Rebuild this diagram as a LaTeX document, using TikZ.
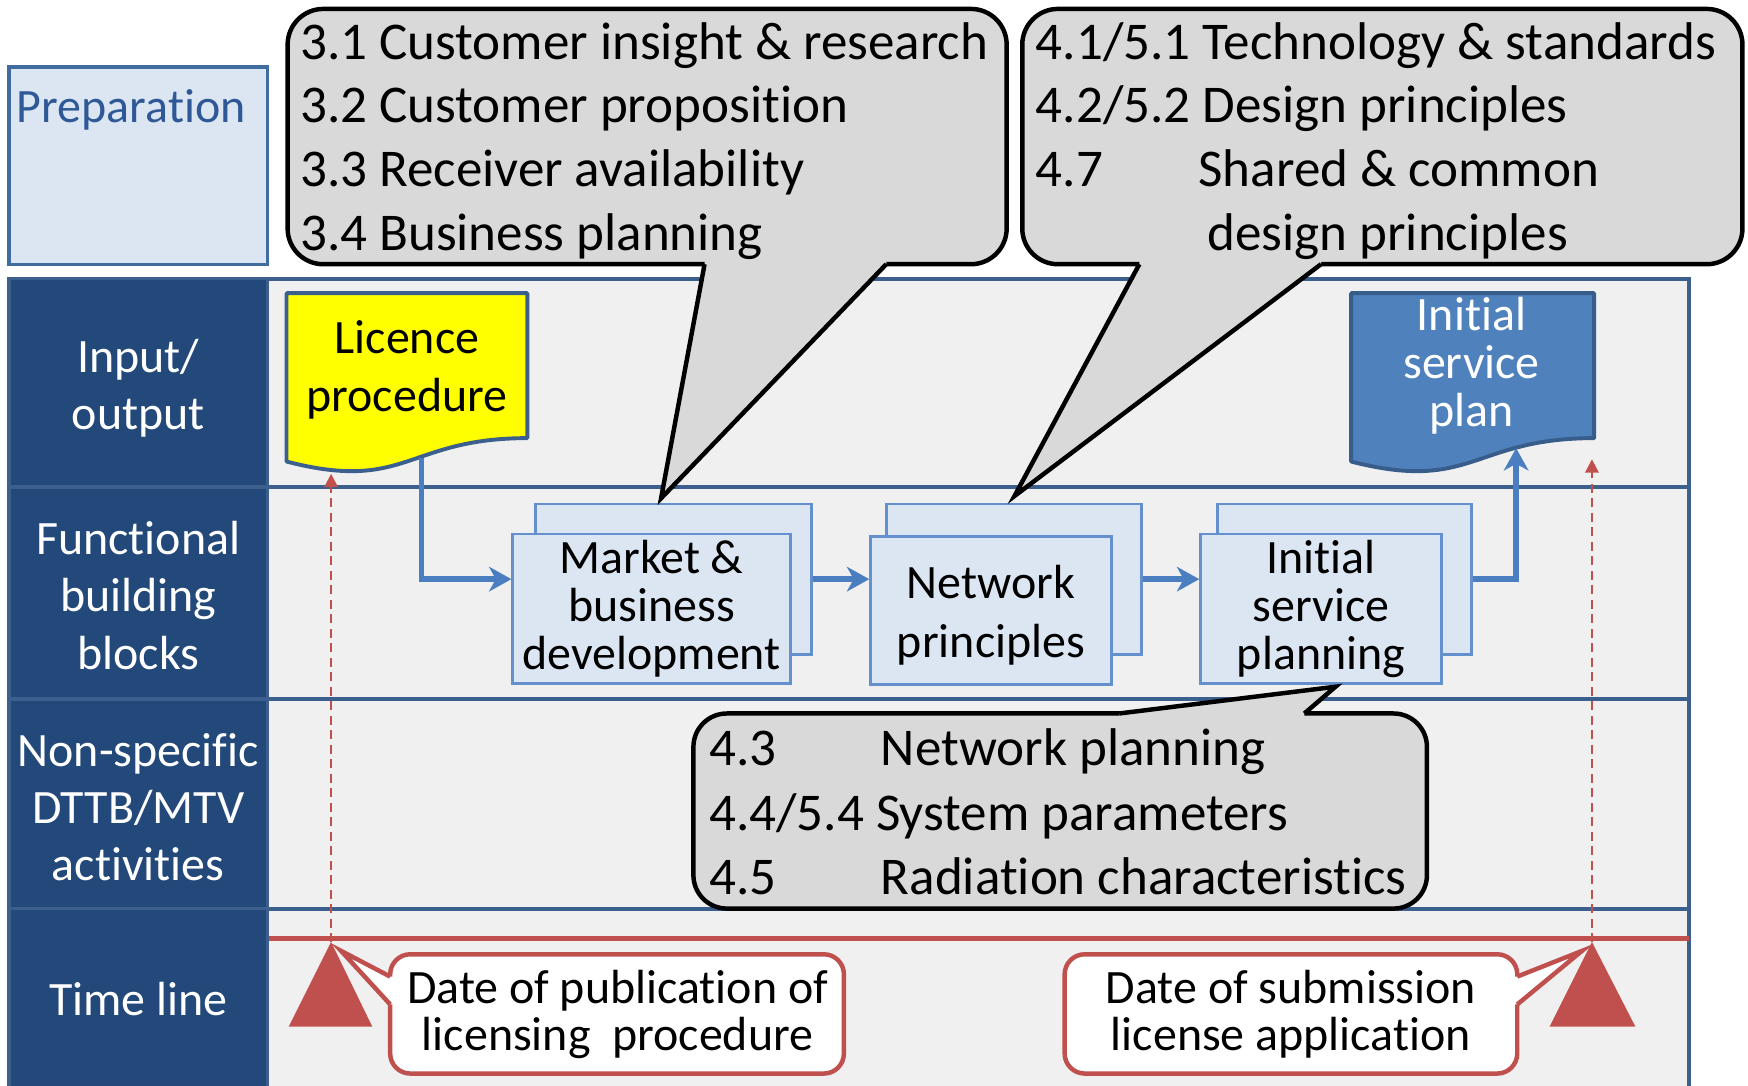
\documentclass[tikz,border=0pt]{standalone}
\usepackage{fontspec}
\setmainfont{Carlito}[Ligatures=NoCommon]
\usetikzlibrary{arrows.meta,calc}
\definecolor{darkcol}{RGB}{35,72,122}
\definecolor{darkedge}{RGB}{60,95,142}
\definecolor{laneline}{RGB}{59,96,142}
\definecolor{lanebg}{RGB}{240,240,240}
\definecolor{paleblue}{RGB}{220,230,242}
\definecolor{prepedge}{RGB}{65,108,160}
\definecolor{boxedge}{RGB}{100,145,205}
\definecolor{flowblue}{RGB}{74,126,193}
\definecolor{docblue}{RGB}{79,129,189}
\definecolor{docedge}{RGB}{56,93,138}
\definecolor{callgray}{RGB}{217,217,217}
\definecolor{tlred}{RGB}{192,80,77}
\definecolor{preptext}{RGB}{46,88,150}
\definecolor{docyellow}{RGB}{255,255,0}
\tikzset{
  lbl/.style={font=\fontsize{43}{52}\selectfont, align=center, inner sep=0pt},
  lbltight/.style={font=\fontsize{43}{43}\selectfont, align=center, inner sep=0pt},
  lanehead/.style={fill=darkcol, draw=darkedge, line width=3pt},
  lanetext/.style={text=white, font=\fontsize{43}{51.5}\selectfont, align=center, inner sep=0pt},
  prepbox/.style={fill=paleblue, draw=prepedge, line width=3pt},
  stackbox/.style={draw=boxedge, fill=paleblue, line width=2.5pt, inner sep=0pt},
  flow/.style={draw=flowblue, line width=5pt, line join=miter,
    -{Stealth[length=20pt,width=22pt,inset=6pt]}},
  reddash/.style={draw=tlred, line width=2pt, dash pattern=on 8pt off 5pt,
    -{Triangle[length=12pt,width=12pt]}},
  docshape/.style={draw=laneline, line width=3.5pt, line join=round},
  callout/.style={fill=callgray, draw=black, line width=4pt, rounded corners=32pt},
  calledge/.style={draw=black, line width=4pt, line join=miter},
  ctext/.style={anchor=base west, inner sep=0pt, font=\fontsize{47.6}{57}\selectfont},
  datebox/.style={fill=white, draw=tlred, line width=4pt, rounded corners=18pt},
  dateedge/.style={draw=tlred, line width=4pt, line join=miter},
}
\begin{document}
\begin{tikzpicture}[x=1pt,y=-1pt]
\useasboundingbox (0,0) rectangle (1568,974);

% lanes
\fill[lanebg] (240,250) rectangle (1515,990);
\foreach \yy in {437,627,815} {\draw[laneline, line width=3.5pt] (240,\yy) -- (1515,\yy);}
\draw[laneline, line width=3.5pt] (240,250) -- (1515,250) -- (1515,990);

% left column
\node[prepbox, minimum width=232pt, minimum height=177pt] (prep) at (124,148.5) {};
\node[anchor=base west, inner sep=0pt, text=preptext, font=\fontsize{43}{51}\selectfont] (preplbl) at (15,110) {Preparation};
\node[lanehead, minimum width=232pt, minimum height=187pt] (hio) at (124,343.5) {};
\node[lanetext] (hiot) at (124,348.5) {Input/\\output};
\node[lanehead, minimum width=232pt, minimum height=190pt] (hfb) at (124,532) {};
\node[lanetext] (hfbt) at (124,534) {Functional\\building\\blocks};
\node[lanehead, minimum width=232pt, minimum height=188pt] (hns) at (124,721) {};
\node[lanetext] (hnst) at (124,724) {Non-specific\\DTTB/MTV\\activities};
\node[lanehead, minimum width=232pt, minimum height=175pt] (htl) at (124,902.5) {};
\node[lanetext] (htlt) at (124,896.5) {Time line};

% time line
\draw[tlred, line width=5pt] (241,842) -- (1515,842);
\coordinate (tl) at (297,845);
\coordinate (tr) at (1428,845);
\fill[tlred] (tl) -- (334,921) -- (259,921) -- cycle;
\fill[tlred] (tr) -- (1467,921) -- (1390,921) -- cycle;
\coordinate (lictip) at (297,425);
\coordinate (plantip) at (1428,412);
\draw[reddash] (tl) -- (lictip);
\draw[reddash] (tr) -- (plantip);

% documents
\draw[docshape, fill=docyellow] (257,263) -- (473,263) -- (473,393)
  .. controls (365,393) and (365,442) .. (257,414) -- cycle;
\node[lbl] (lic) at (365,332) {Licence\\procedure};
\draw[docshape, draw=docedge, fill=docblue] (1212,263) -- (1430,263) -- (1430,393)
  .. controls (1321,393) and (1321,442) .. (1212,414) -- cycle;
\node[lbltight, text=white] (plan) at (1320,328) {Initial\\service\\plan};

% building blocks
\node[stackbox, minimum width=248pt, minimum height=135pt] (mktb) at (604,519.5) {};
\node[stackbox, lbltight, minimum width=249pt, minimum height=134pt] (mkt) at (584.5,546) {Market \&\\business\\development};
\node[stackbox, minimum width=229pt, minimum height=135pt] (netb) at (909.5,519.5) {};
\node[stackbox, minimum width=216pt, minimum height=133pt] (net) at (889,547.5) {};
\node[lbl, font=\fontsize{43}{53}\selectfont] (nett) at (889,551.5) {Network\\principles};
\node[stackbox, minimum width=228pt, minimum height=135pt] (ispb) at (1206,519.5) {};
\node[stackbox, lbltight, minimum width=216pt, minimum height=134pt] (isp) at (1185,546) {Initial\\service\\planning};

% flows
\coordinate (licb) at (378,411);
\coordinate (planb) at (1360,402);
\draw[flow] (licb) |- (mkt.west |- mktb.east);
\draw[flow] (mktb.east) -- (mktb.east -| net.west);
\draw[flow] (netb.east) -- (netb.east -| isp.west);
\draw[flow] (ispb.east) -| (planb);

% callout 1
\node[callout, minimum width=645pt, minimum height=229pt] (c1) at (580.5,122.5) {};
\fill[callgray] (632,233) -- (632,237) -- (593,447) -- (795,237) -- (795,233) -- cycle;
\draw[calledge] (632,237) -- (593,447) -- (795,237);
\node[ctext] (c1a) at (269,53) {3.1 Customer insight \& research};
\node[ctext] (c1b) at (269,110) {3.2 Customer proposition};
\node[ctext] (c1c) at (269,167) {3.3 Receiver availability};
\node[ctext] (c1d) at (269,225) {3.4 Business planning};

% callout 2
\node[callout, minimum width=646pt, minimum height=229pt] (c2) at (1240,122.5) {};
\fill[callgray] (1022,233) -- (1022,237) -- (910,445) -- (1185,237) -- (1185,233) -- cycle;
\draw[calledge] (1022,237) -- (910,445) -- (1185,237);
\node[ctext] (c2a) at (929,53) {4.1/5.1 Technology \& standards};
\node[ctext] (c2b) at (929,110) {4.2/5.2 Design principles};
\node[ctext] (c2c) at (929,167) {\makebox[146pt][l]{4.7}Shared \& common};
\node[ctext] (c2d) at (929,225) {\hspace*{154pt}design principles};

% callout 3
\node[callout, rounded corners=30pt, minimum width=658pt, minimum height=175pt] (c3) at (951,727.5) {};
\fill[callgray] (1004,643) -- (1004,640) -- (1198,616) -- (1170,640) -- (1170,643) -- cycle;
\draw[calledge] (1004,640) -- (1198,616) -- (1170,640);
\node[ctext] (c3a) at (636,687) {\makebox[154pt][l]{4.3}Network planning};
\node[ctext] (c3b) at (636,745) {4.4/5.4 System parameters};
\node[ctext] (c3c) at (636,802) {\makebox[154pt][l]{4.5}Radiation characteristics};

% date callouts
\node[datebox, minimum width=407pt, minimum height=107pt] (pub) at (553.5,909.5) {};
\fill[white] (355,876) -- (350,876) -- (306,853) -- (350,901) -- (355,901) -- cycle;
\draw[dateedge] (350,876) -- (306,853) -- (350,901);
\node[lbltight, font=\fontsize{43}{42}\selectfont] (pubt) at (554,910) {Date of publication of\\licensing\ \ procedure};
\node[datebox, minimum width=406pt, minimum height=107pt] (sub) at (1158,909.5) {};
\fill[white] (1356,876) -- (1361,876) -- (1419,853) -- (1361,901) -- (1356,901) -- cycle;
\draw[dateedge] (1361,876) -- (1419,853) -- (1361,901);
\node[lbltight, font=\fontsize{43}{42}\selectfont] (subt) at (1158,910) {Date of submission\\license application};
\end{tikzpicture}
\end{document}
